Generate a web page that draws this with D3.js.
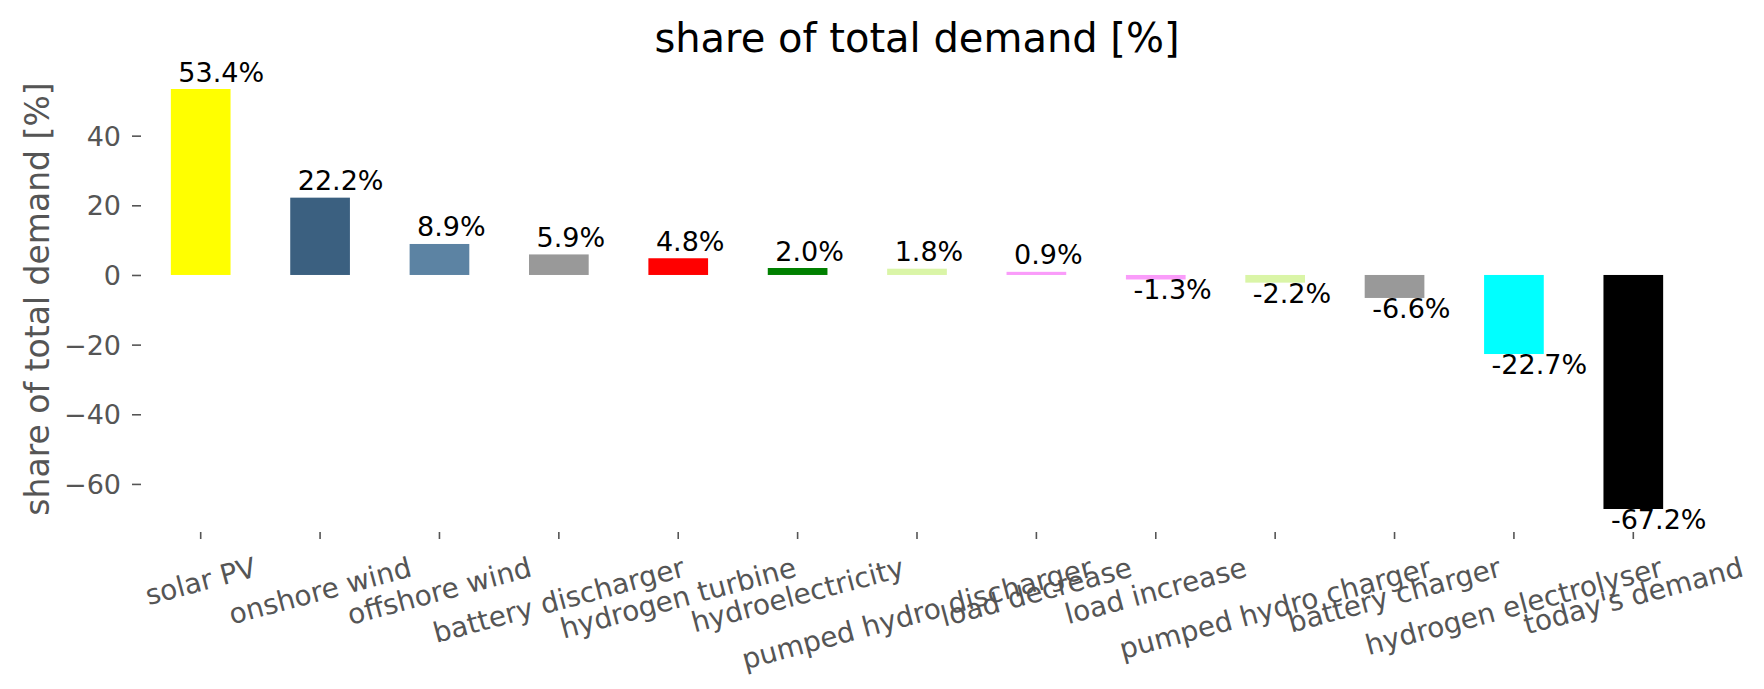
<!DOCTYPE html>
<html>
<head>
<meta charset="utf-8">
<script src="https://cdn.jsdelivr.net/npm/d3@7"></script>
<style>
  html, body { margin: 0; padding: 0; background: #fff; }
  svg { display: block; font-family: "DejaVu Sans", sans-serif; }
</style>
</head>
<body>
<svg id="chart" width="1764" height="689"></svg>
<script>
const categories = ["solar PV", "onshore wind", "offshore wind", "battery discharger", "hydrogen turbine",
  "hydroelectricity", "pumped hydro discharger", "load decrease", "load increase", "pumped hydro charger",
  "battery charger", "hydrogen electrolyser", "today's demand"];
const values = [53.4, 22.2, 8.9, 5.9, 4.8, 2.0, 1.8, 0.9, -1.3, -2.2, -6.6, -22.7, -67.2];
const barColors = ["#ffff00", "#3b6080", "#5c83a3", "#999999", "#ff0000", "#008000", "#daf5a7",
  "#fa9cfa", "#fa9cfa", "#daf5a7", "#999999", "#00ffff", "#000000"];
const yTicks = [-60, -40, -20, 0, 20, 40];
const titleText = "share of total demand [%]";
const yLabelText = "share of total demand [%]";

(function () {
const svg = d3.select("#chart");
const mLeft = 141, mRight = 1693, mTop = 68, mBottom = 530;
const tickFont = 27, xTickFont = 28, labelFont = 27;
const grey = "#555555";

const x = d3.scaleBand().domain(categories).range([mLeft, mRight]).paddingInner(0.5).paddingOuter(0.25);
const pad = (d3.max(values) - d3.min(values)) * 0.05;
const y = d3.scaleLinear().domain([d3.min(values) - pad, d3.max(values) + pad]).range([mBottom, mTop]);
const color = d3.scaleOrdinal(categories, barColors);

// bars
svg.append("g").selectAll("rect").data(categories).join("rect")
  .attr("x", d => x(d))
  .attr("width", x.bandwidth())
  .attr("y", (d, i) => y(Math.max(0, values[i])))
  .attr("height", (d, i) => Math.abs(y(values[i]) - y(0)))
  .attr("fill", d => color(d));

// bar labels
svg.append("g").selectAll("text").data(categories).join("text")
  .attr("x", d => x(d) + 7.5)
  .attr("y", (d, i) => values[i] >= 0 ? y(values[i]) - 7.5 : y(values[i]) + 20)
  .attr("font-size", labelFont)
  .attr("fill", "#000")
  .text((d, i) => values[i].toFixed(1) + "%");

// y axis
const yAxis = d3.axisLeft(y).tickValues(yTicks).tickSize(9).tickPadding(11);
const gy = svg.append("g").attr("transform", `translate(${mLeft},0)`).call(yAxis);
gy.select(".domain").remove();
gy.selectAll(".tick line").attr("stroke", grey).attr("stroke-width", 1.6);
gy.selectAll(".tick text").attr("fill", grey).attr("font-size", tickFont)
  .attr("font-family", "DejaVu Sans").attr("dy", "0.35em");

// x axis
const xAxis = d3.axisBottom(x).tickSize(7).tickFormat("");
const gx = svg.append("g").attr("transform", `translate(0,${mBottom + 2})`).call(xAxis);
gx.select(".domain").remove();
gx.selectAll(".tick line").attr("stroke", grey).attr("stroke-width", 1.6);
gx.selectAll(".tick text").remove();

const ang = 15 * Math.PI / 180;
const labelTop = 551;
const xl = svg.append("g");
categories.forEach(c => {
  const cx = x(c) + x.bandwidth() / 2;
  const t = xl.append("text")
    .attr("font-size", xTickFont)
    .attr("fill", grey)
    .attr("text-anchor", "middle")
    .attr("dominant-baseline", "central")
    .text(c);
  const w = t.node().getComputedTextLength();
  const hBox = xTickFont * 1.17;
  const H = w * Math.sin(ang) + hBox * Math.cos(ang);
  const cy = labelTop + H / 2;
  t.attr("transform", `translate(${cx},${cy}) rotate(-15)`);
});

// y label
svg.append("text")
  .attr("transform", `translate(37,${(mTop + mBottom) / 2}) rotate(-90)`)
  .attr("text-anchor", "middle")
  .attr("dominant-baseline", "central")
  .attr("font-size", 33)
  .attr("fill", grey)
  .text(yLabelText);

// title
svg.append("text")
  .attr("x", (mLeft + mRight) / 2)
  .attr("y", 52)
  .attr("text-anchor", "middle")
  .attr("font-size", 40)
  .attr("fill", "#000")
  .text(titleText);
})();
</script>
</body>
</html>
